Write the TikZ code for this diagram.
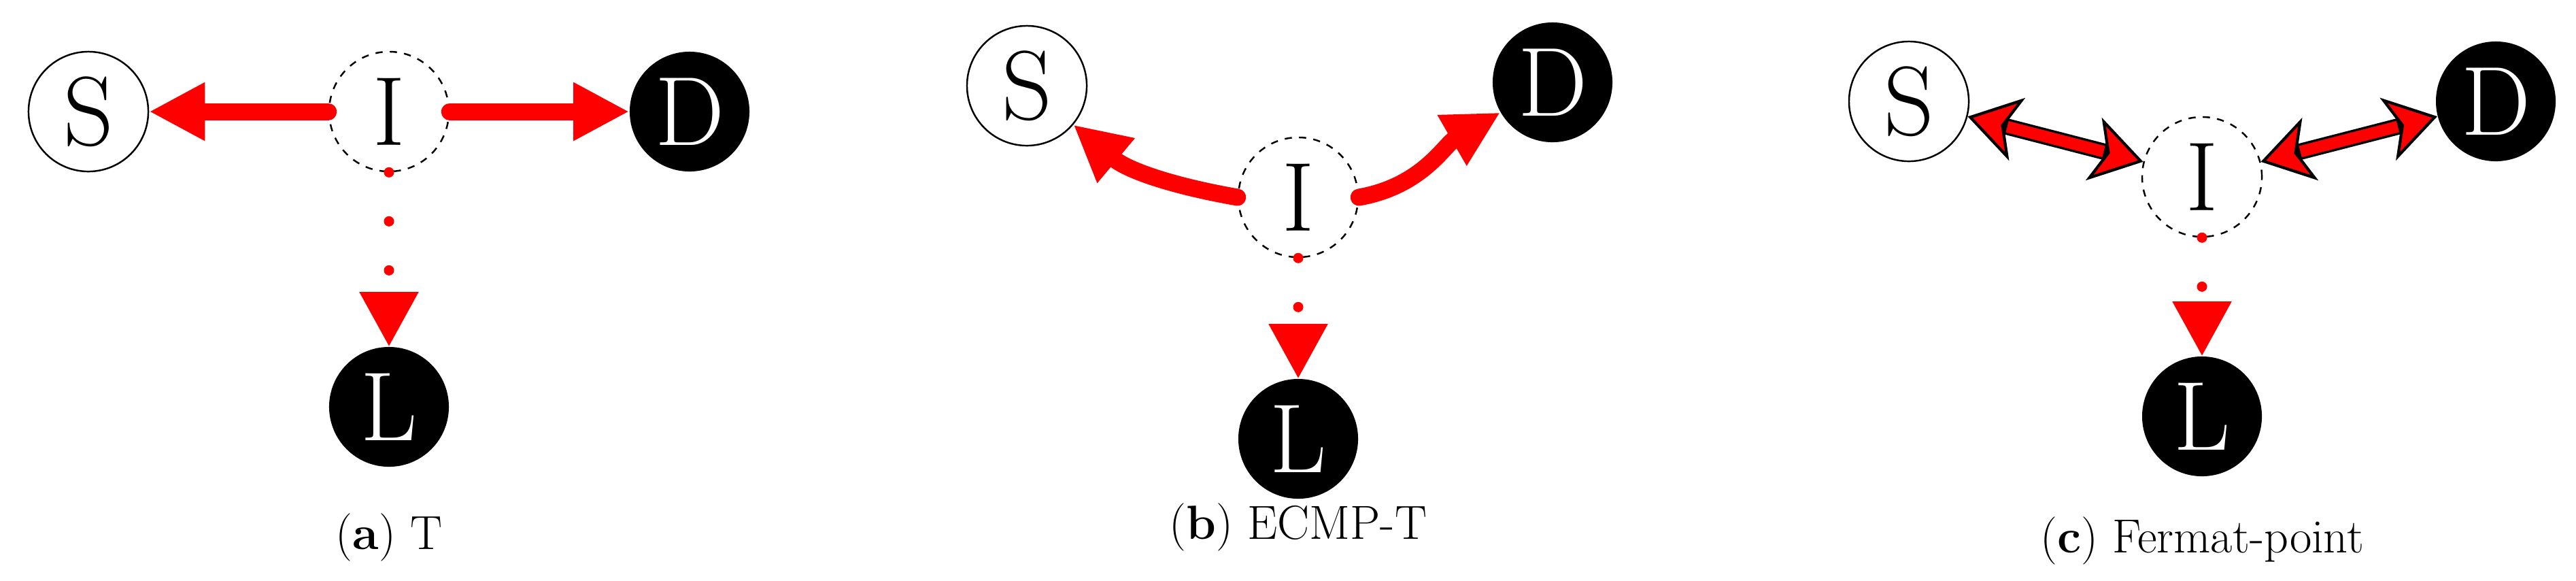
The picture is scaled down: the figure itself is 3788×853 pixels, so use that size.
\documentclass[tikz,border=0pt]{standalone}
\usetikzlibrary{arrows.meta}
\begin{document}
\begin{tikzpicture}[x=0.01cm,y=-0.01cm,
  nd/.style={circle,minimum size=1.76cm,inner sep=0pt,font=\fontsize{41}{41}\selectfont},
  wn/.style={nd,draw=black,line width=0.7pt},
  bn/.style={nd,fill=black,text=white},
  mid node/.style={nd,draw=black,dashed,line width=0.7pt},
  thick arrow/.style={red,line width=0.25cm,line cap=round,-{Triangle[length=0.82cm,width=0.8cm]}},
  dot arrow/.style={red,line width=0.15cm,line cap=round,dash pattern=on 0pt off 0.72cm,-{Triangle[length=0.8cm,width=0.83cm]}},
  caption text/.style={font=\fontsize{20}{24}\selectfont},
  dbl/.style={black,line width=0.24cm,{Stealth[length=0.75cm,width=0.95cm,inset=0.2cm,fill=red,line width=1.2pt]}-{Stealth[length=0.75cm,width=0.95cm,inset=0.2cm,fill=red,line width=1.2pt]}},
  dblin/.style={red,line width=0.17cm,shorten <=0.6cm,shorten >=0.6cm}]
\useasboundingbox (0,0) rectangle (3788,853);
% (a)
\node[wn] (aS) at (130,164) {S};
\node[mid node] (aI) at (572,164) {I};
\node[bn] (aD) at (1014,164) {D};
\node[bn] (aL) at (572,598) {L};
\draw[thick arrow] (aI.west) -- (aS.east);
\draw[thick arrow] (aI.east) -- (aD.west);
\draw[dot arrow] (aI.south) -- (aL.north);
\node[caption text] (ac) at (572,790) {(\textbf{a}) T};
% (b)
\node[wn] (bS) at (1510,126) {S};
\node[mid node] (bI) at (1909,290) {I};
\node[bn] (bD) at (2283,121) {D};
\node[bn] (bL) at (1909,645) {L};
\draw[thick arrow] (bI.west) to[out=170,in=-40] (bS.-40);
\draw[thick arrow] (bI.east) to[out=10,in=-150] (bD.-150);
\draw[dot arrow] (bI.south) -- (bL.north);
\node[caption text] (bc) at (1909,775) {(\textbf{b}) ECMP-T};
% (c)
\node[wn] (cS) at (2807,149) {S};
\node[mid node] (cI) at (3238,260) {I};
\node[bn] (cD) at (3670,149) {D};
\node[bn] (cL) at (3238,612) {L};
\draw[dbl] (cS) -- (cI);
\draw[dblin] (cS) -- (cI);
\draw[dbl] (cD) -- (cI);
\draw[dblin] (cD) -- (cI);
\draw[dot arrow] (cI.south) -- (cL.north);
\node[caption text] (cc) at (3238,795) {(\textbf{c}) Fermat-point};
\end{tikzpicture}
\end{document}
